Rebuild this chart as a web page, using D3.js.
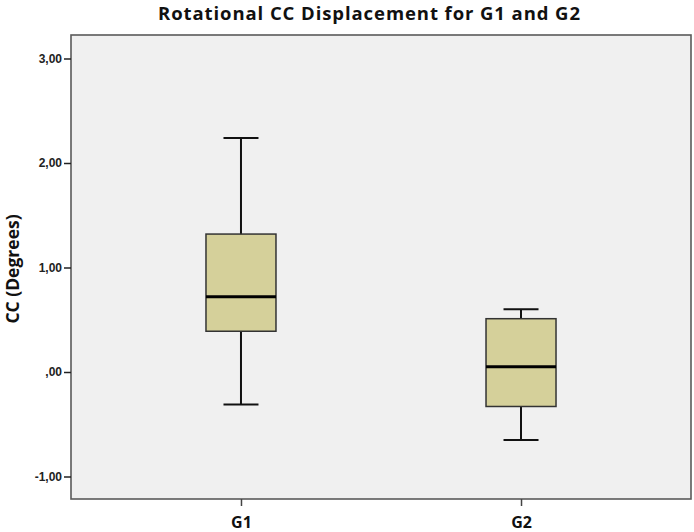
<!DOCTYPE html>
<html><head><meta charset="utf-8">
<script src="https://cdn.jsdelivr.net/npm/d3@7"></script>
<style>body{margin:0;background:#fff}svg{display:block}</style>
</head><body>
<svg id="c" width="694" height="532"></svg>
<script>
const categories = ["G1", "G2"];
const whiskerLow = [-0.31, -0.65];
const q1 = [0.39, -0.33];
const median = [0.72, 0.05];
const q3 = [1.32, 0.51];
const whiskerHigh = [2.24, 0.60];
const yTicks = [-1, 0, 1, 2, 3];
const yTickLabels = ["-1,00", ",00", "1,00", "2,00", "3,00"];
const title = "Rotational CC Displacement for G1 and G2";
const yTitle = "CC (Degrees)";

const svg = d3.select("#c");
const L = 71, R = 691, T = 35, B = 499;
const y = d3.scaleLinear().domain([0, 3]).range([372, 58.5]);
const x = d3.scalePoint().domain(categories).range([L, R]).padding(0.607);

svg.append("rect").attr("x", L).attr("y", T).attr("width", R - L).attr("height", B - T)
  .attr("fill", "#f0f0f0").attr("stroke", "#5a5a5a").attr("stroke-width", 1.6);

const data = categories.map((c, i) => ({c, lo: whiskerLow[i], q1: q1[i], med: median[i], q3: q3[i], hi: whiskerHigh[i]}));
const bw = 70, cw = 35;
const g = svg.append("g");
data.forEach(d => {
  const cx = x(d.c);
  g.append("line").attr("x1", cx).attr("x2", cx).attr("y1", y(d.hi)).attr("y2", y(d.lo))
    .attr("stroke", "#111").attr("stroke-width", 2);
  [d.hi, d.lo].forEach(v => g.append("line").attr("x1", cx - cw / 2).attr("x2", cx + cw / 2)
    .attr("y1", y(v)).attr("y2", y(v)).attr("stroke", "#111").attr("stroke-width", 2));
  g.append("rect").attr("x", cx - bw / 2).attr("y", y(d.q3)).attr("width", bw).attr("height", y(d.q1) - y(d.q3))
    .attr("fill", "#d5d09a").attr("stroke", "#333").attr("stroke-width", 1.5);
  g.append("line").attr("x1", cx - bw / 2).attr("x2", cx + bw / 2).attr("y1", y(d.med)).attr("y2", y(d.med))
    .attr("stroke", "#000").attr("stroke-width", 3);
});

const yAxis = svg.append("g").attr("transform", `translate(${L},0)`)
  .call(d3.axisLeft(y).tickValues(yTicks).tickFormat((d, i) => yTickLabels[i]).tickSize(7).tickPadding(2));
yAxis.select(".domain").remove();
yAxis.selectAll(".tick line").attr("stroke", "#222").attr("stroke-width", 1.5);
yAxis.selectAll(".tick text").attr("font-family", "Liberation Sans, Arial, sans-serif")
  .attr("font-size", 12).attr("font-weight", "bold").attr("fill", "#222");

const xAxis = svg.append("g").attr("transform", `translate(0,${B})`)
  .call(d3.axisBottom(x).tickSize(7).tickPadding(11));
xAxis.select(".domain").remove();
xAxis.selectAll(".tick line").attr("stroke", "#444").attr("stroke-width", 1.5);
xAxis.selectAll(".tick text").attr("font-family", "Open Sans, sans-serif")
  .attr("font-size", 16).attr("font-weight", "bold").attr("fill", "#111");

svg.append("text").attr("x", 369).attr("y", 20).attr("text-anchor", "middle")
  .attr("font-family", "Open Sans, sans-serif").attr("font-size", 18.5).attr("font-weight", "bold")
  .attr("textLength", 422).attr("lengthAdjust", "spacing")
  .attr("fill", "#111").text(title);

svg.append("text").attr("transform", "translate(18.5,269) rotate(-90)").attr("text-anchor", "middle")
  .attr("font-family", "Open Sans, sans-serif").attr("font-size", 17.5).attr("font-weight", "bold")
  .attr("fill", "#111").text(yTitle);
</script>
</body></html>
